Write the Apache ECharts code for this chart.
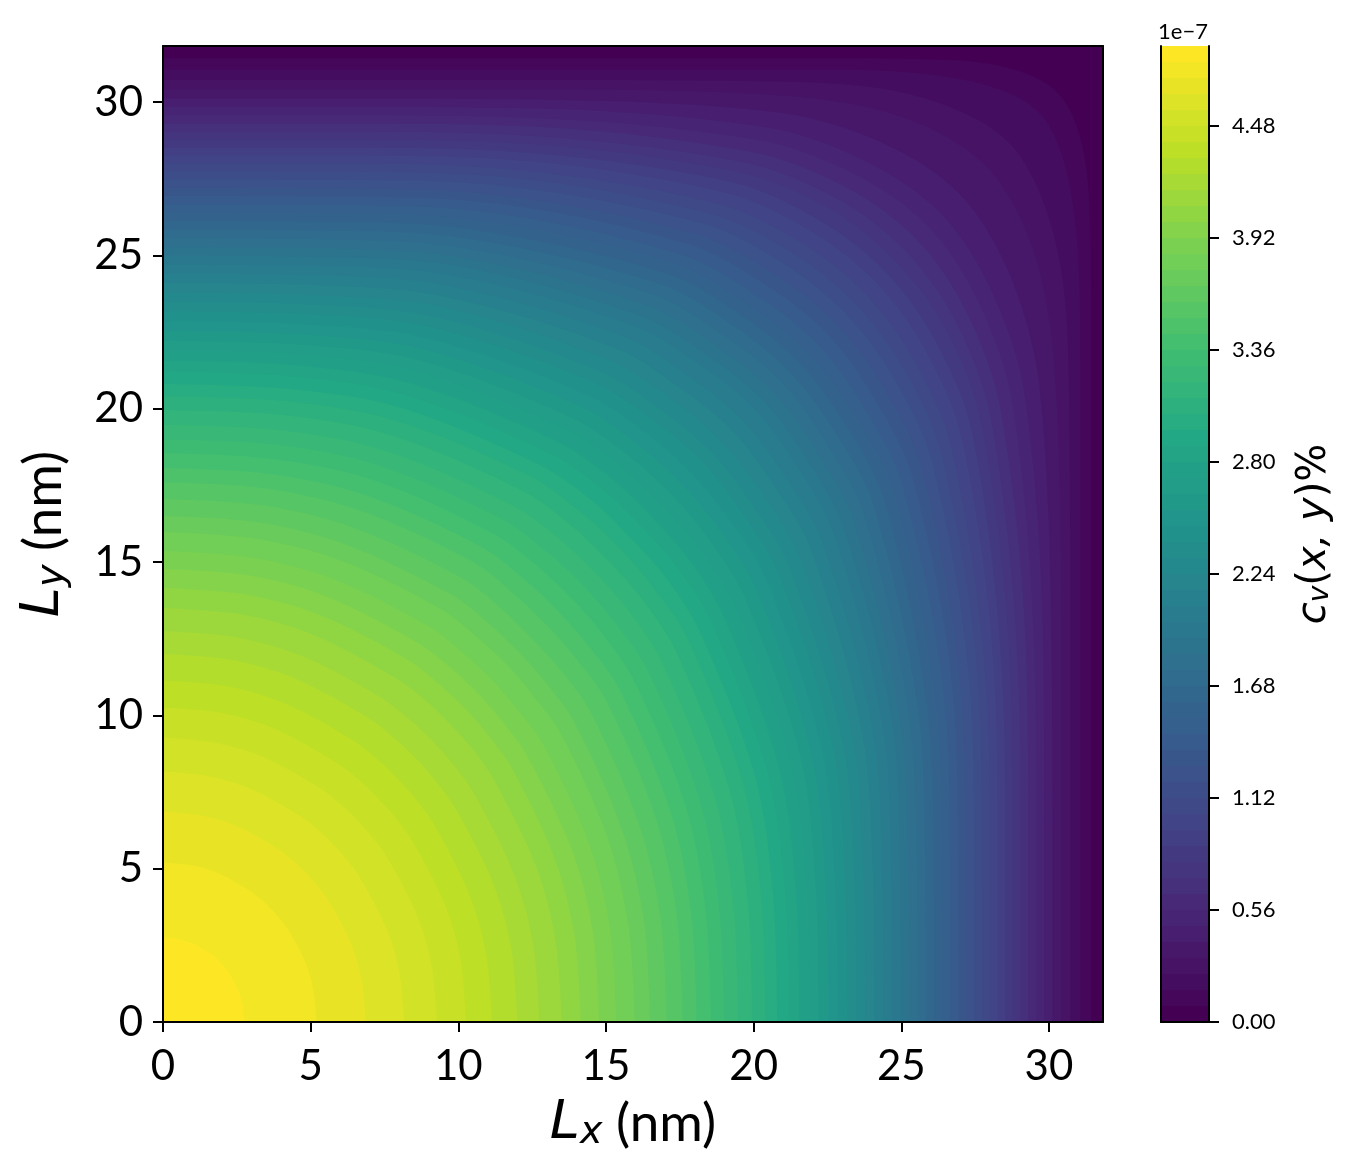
<!DOCTYPE html>
<html>
<head>
<meta charset="utf-8">
<title>c_v(x,y)</title>
<style>
  html, body { margin: 0; padding: 0; background: #fff; }
  #chart { width: 1357px; height: 1170px; }
</style>
<script src="https://cdn.jsdelivr.net/npm/echarts@6/dist/echarts.min.js"></script>
</head>
<body>
<div id="chart"></div>
<script>
// contour levels step by 0.08 (units of 1e-7), colourbar runs 0 .. 4.88
const levelStep = 0.08
const bandCount = 61
const axisMax = 31.83
const xTicks = [0, 5, 10, 15, 20, 25, 30]
const yTicks = [0, 5, 10, 15, 20, 25, 30]
const barTicks = [0, 0.56, 1.12, 1.68, 2.24, 2.8, 3.36, 3.92, 4.48]
const viridisStops = ['#440154', '#482475', '#414487', '#355f8d', '#2a788e', '#21918c', '#22a884', '#44bf70', '#7ad151', '#bddf26', '#fde725']

// each contour, one entry per level 0.08, 0.16 ... 4.80
// contourEdge: where it meets the axes. The others: height of the contour where x/y = 0.2, 0.4, 0.7, 0.85, 1
const contourEdge = [31.43, 31.06, 30.72, 30.41, 30.12, 29.84, 29.57, 29.30, 29.04, 28.78, 28.52, 28.26, 28.00, 27.74, 27.48, 27.21, 26.94, 26.67, 26.40, 26.12, 25.84, 25.56, 25.28, 24.99, 24.70, 24.40, 24.10, 23.79, 23.48, 23.17, 22.85, 22.53, 22.21, 21.90, 21.55, 21.20, 20.80, 20.40, 19.95, 19.47, 19.00, 18.56, 18.07, 17.60, 17.06, 16.50, 15.98, 15.36, 14.77, 14.15, 13.50, 12.74, 12.00, 11.14, 10.26, 9.28, 8.17, 6.86, 5.20, 2.75]
const contourAt20 = [31.43, 31.06, 30.72, 30.41, 30.12, 29.84, 29.57, 29.30, 29.04, 28.78, 28.52, 28.26, 28.00, 27.73, 27.47, 27.19, 26.92, 26.65, 26.38, 26.10, 25.81, 25.53, 25.24, 24.95, 24.66, 24.35, 24.04, 23.72, 23.41, 23.09, 22.76, 22.43, 22.10, 21.79, 21.43, 21.07, 20.66, 20.26, 19.80, 19.31, 18.83, 18.37, 17.88, 17.40, 16.85, 16.29, 15.76, 15.14, 14.56, 13.94, 13.29, 12.54, 11.80, 10.95, 10.08, 9.10, 8.01, 6.73, 5.10, 2.70]
const contourAt40 = [31.43, 31.06, 30.72, 30.41, 30.09, 29.81, 29.51, 29.24, 28.95, 28.69, 28.41, 28.15, 27.86, 27.60, 27.32, 27.02, 26.75, 26.46, 26.16, 25.86, 25.56, 25.25, 24.95, 24.67, 24.35, 24.01, 23.67, 23.34, 22.99, 22.66, 22.30, 21.94, 21.59, 21.24, 20.84, 20.46, 20.05, 19.62, 19.15, 18.65, 18.16, 17.69, 17.18, 16.68, 16.12, 15.56, 15.05, 14.44, 13.87, 13.27, 12.64, 11.91, 11.20, 10.38, 9.55, 8.62, 7.58, 6.37, 4.83, 2.55]
const contourAt70 = [31.43, 31.06, 30.66, 30.20, 29.67, 29.18, 28.77, 28.39, 28.05, 27.74, 27.41, 27.07, 26.71, 26.38, 26.05, 25.71, 25.38, 25.04, 24.74, 24.40, 24.06, 23.72, 23.38, 23.04, 22.72, 22.33, 21.96, 21.58, 21.20, 20.85, 20.47, 20.10, 19.72, 19.36, 18.96, 18.59, 18.18, 17.79, 17.34, 16.86, 16.40, 15.94, 15.47, 15.00, 14.47, 13.94, 13.46, 12.89, 12.35, 11.82, 11.23, 10.57, 9.92, 9.19, 8.44, 7.62, 6.69, 5.62, 4.26, 2.25]
const contourAt85 = [31.37, 30.87, 30.17, 29.50, 28.67, 28.05, 27.62, 27.22, 26.86, 26.54, 26.15, 25.80, 25.42, 25.08, 24.73, 24.38, 24.03, 23.68, 23.36, 23.04, 22.71, 22.37, 22.04, 21.72, 21.41, 21.01, 20.65, 20.29, 19.91, 19.58, 19.22, 18.86, 18.50, 18.16, 17.78, 17.43, 17.04, 16.63, 16.22, 15.77, 15.31, 14.89, 14.42, 13.97, 13.48, 12.99, 12.53, 12.00, 11.51, 11.01, 10.48, 9.85, 9.24, 8.56, 7.86, 7.09, 6.23, 5.23, 3.96, 2.10]
const contourDiag = [30.30, 29.66, 28.66, 27.89, 26.99, 26.35, 25.93, 25.52, 25.15, 24.81, 24.47, 24.13, 23.77, 23.44, 23.11, 22.78, 22.47, 22.14, 21.83, 21.52, 21.21, 20.91, 20.60, 20.29, 20.01, 19.62, 19.28, 18.91, 18.57, 18.26, 17.89, 17.55, 17.21, 16.86, 16.51, 16.18, 15.81, 15.46, 15.06, 14.64, 14.23, 13.83, 13.39, 12.97, 12.50, 12.06, 11.65, 11.15, 10.69, 10.23, 9.72, 9.15, 8.58, 7.94, 7.29, 6.58, 5.78, 4.85, 3.68, 1.94]

const fontName = 'Lato'
const bandColors = []
for (let i = 0; i < bandCount; i++) {
  bandColors.push(echarts.color.lerp(i / (bandCount - 1), viridisStops))
}

// the picture is symmetric in x and y, so the lower half of a contour mirrors the upper half
function contourPoints(i) {
  const d = contourEdge[i]
  const e = contourAt20[i]
  const a = contourAt40[i]
  const b = contourAt70[i]
  const c = contourAt85[i]
  const m = contourDiag[i]
  return [
    [0, d], [0.2 * e, e], [0.4 * a, a], [0.7 * b, b], [0.85 * c, c], [m, m],
    [c, 0.85 * c], [b, 0.7 * b], [a, 0.4 * a], [e, 0.2 * e], [d, 0]
  ]
}

const series = []
contourEdge.forEach((d, i) => {
  series.push({
    type: 'line',
    xAxisIndex: 0,
    yAxisIndex: 0,
    data: contourPoints(i),
    smooth: 0.33,
    symbol: 'none',
    silent: true,
    lineStyle: { width: 0 },
    areaStyle: { color: bandColors[i + 1], opacity: 1 },
    z: 2 + i * 0.001
  })
})
// colourbar, one stacked block per band
bandColors.forEach(color => {
  series.push({
    type: 'bar',
    xAxisIndex: 2,
    yAxisIndex: 2,
    stack: 'bar',
    barWidth: '100%',
    silent: true,
    data: [levelStep],
    itemStyle: { color: color }
  })
})

const frameLine = { show: true, onZero: false, lineStyle: { color: '#000', width: 2 } }
const tickStyle = { show: true, length: 10, lineStyle: { color: '#000', width: 2 } }
const axisNameRich = {
  l: { fontFamily: 'DejaVu Sans', fontStyle: 'italic', fontSize: 54, color: '#000' },
  s: { fontFamily: 'DejaVu Sans', fontStyle: 'italic', fontSize: 38, color: '#000', padding: [18, 0, 0, 0] },
  t: { fontFamily: fontName, fontSize: 53, color: '#000' }
}

function valueAxis(pos, ticks, margin, extra) {
  return Object.assign({
    type: 'value',
    gridIndex: 0,
    position: pos,
    min: 0,
    max: axisMax,
    z: 10,
    splitLine: { show: false },
    axisLine: frameLine,
    axisTick: Object.assign({ customValues: ticks }, tickStyle),
    axisLabel: {
      customValues: ticks,
      color: '#000',
      fontFamily: fontName,
      fontSize: 42,
      margin: margin,
      padding: [8, 0, 0, 0]
    }
  }, extra || {})
}
const hiddenSide = { axisTick: { show: false }, axisLabel: { show: false } }

const option = {
  animation: false,
  backgroundColor: '#fff',
  title: {
    text: '1e\u22127',
    left: 1153,
    top: 16,
    textStyle: { color: '#000', fontFamily: fontName, fontSize: 22, fontWeight: 'normal' }
  },
  grid: [
    { left: 163, top: 46, width: 940, height: 976, show: true, backgroundColor: bandColors[0], borderWidth: 0 },
    { left: 1161, top: 46, width: 48, height: 976 }
  ],
  xAxis: [
    valueAxis('bottom', xTicks, 15, {
      name: '{l|L}{s|x}{t| (nm)}',
      nameLocation: 'middle',
      nameGap: 74,
      nameTextStyle: { rich: axisNameRich }
    }),
    valueAxis('top', xTicks, 15, hiddenSide),
    {
      type: 'category',
      gridIndex: 1,
      data: ['band'],
      z: 10,
      axisLine: { show: true, lineStyle: { color: '#000', width: 2 } },
      axisTick: { show: false },
      axisLabel: { show: false }
    },
    {
      type: 'category',
      gridIndex: 1,
      position: 'top',
      data: ['band'],
      z: 10,
      axisLine: { show: true, lineStyle: { color: '#000', width: 2 } },
      axisTick: { show: false },
      axisLabel: { show: false }
    }
  ],
  yAxis: [
    valueAxis('left', yTicks, 20, {
      name: '{l|L}{s|y}{t| (nm)}',
      nameLocation: 'middle',
      nameGap: 91,
      nameRotate: 90,
      nameTextStyle: { rich: axisNameRich }
    }),
    valueAxis('right', yTicks, 20, hiddenSide),
    {
      type: 'value',
      gridIndex: 1,
      position: 'right',
      min: 0,
      max: bandCount * levelStep,
      z: 10,
      splitLine: { show: false },
      axisLine: frameLine,
      axisTick: Object.assign({ customValues: barTicks }, tickStyle),
      axisLabel: {
        customValues: barTicks,
        formatter: v => v.toFixed(2),
        color: '#000',
        fontFamily: fontName,
        fontSize: 22,
        margin: 23,
        padding: [8, 0, 0, 0]
      },
      name: '{c|c}{s|v}{t|(}{c|x, y}{t|)%}',
      nameLocation: 'middle',
      nameGap: 85,
      nameRotate: 90,
      nameTextStyle: {
        rich: {
          c: { fontFamily: 'DejaVu Sans', fontStyle: 'italic', fontSize: 40, color: '#000' },
          s: { fontFamily: 'DejaVu Sans', fontStyle: 'italic', fontSize: 28, color: '#000', padding: [13, 0, 0, 0] },
          t: { fontFamily: 'DejaVu Sans', fontSize: 40, color: '#000' }
        }
      }
    },
    {
      type: 'value',
      gridIndex: 1,
      position: 'left',
      min: 0,
      max: bandCount * levelStep,
      z: 10,
      splitLine: { show: false },
      axisLine: frameLine,
      axisTick: { show: false },
      axisLabel: { show: false }
    }
  ],
  series: series
}

const chart = echarts.init(document.getElementById('chart'), null, { renderer: 'canvas' })
chart.setOption(option)
</script>
</body>
</html>
